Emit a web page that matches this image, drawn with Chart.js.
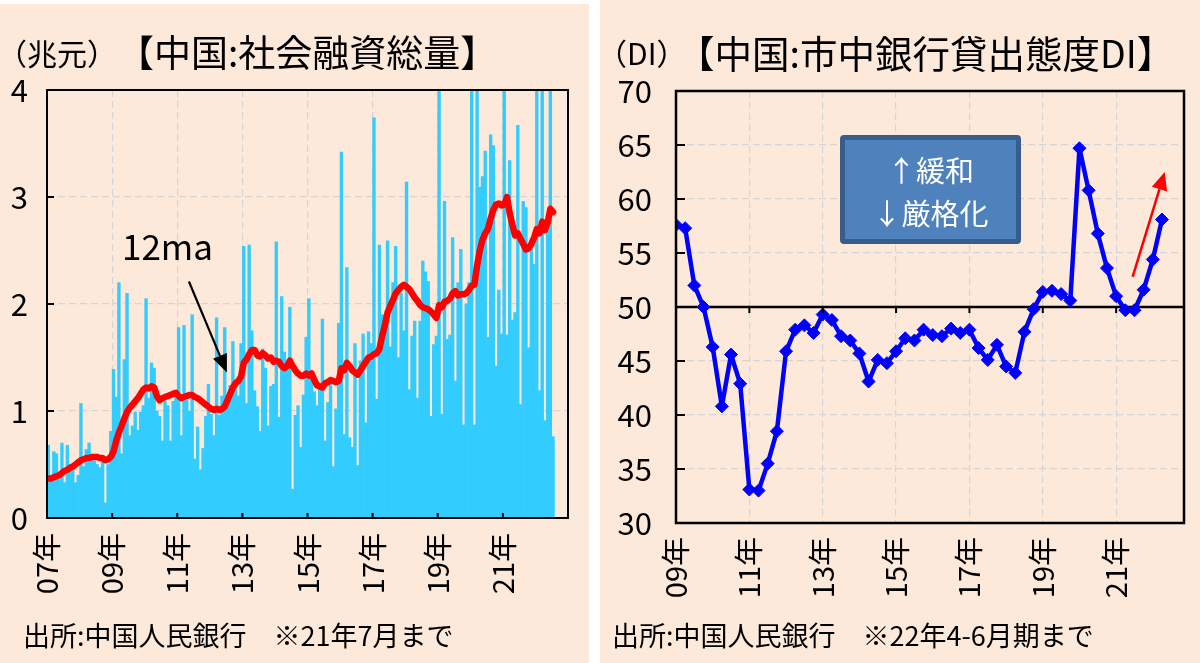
<!DOCTYPE html>
<html><head><meta charset="utf-8">
<script src="https://cdn.jsdelivr.net/npm/chart.js@4.4.1/dist/chart.umd.min.js"></script>
<style>
body{margin:0;background:#fff;}
#wrap{position:relative;width:1200px;height:663px;background:#fff;overflow:hidden;font-family:"Noto Sans CJK JP","Noto Sans",sans-serif;color:#000;}
.panel{position:absolute;background:#FCE9DA;}
canvas{position:absolute;top:0;}
.t{position:absolute;white-space:pre;line-height:1;}
#box{position:absolute;left:840px;top:135px;width:181px;height:109px;box-sizing:border-box;background:#4F81BD;border:5px solid #385D8A;border-radius:4px;}
#boxtxt{position:absolute;left:840px;top:148px;width:181px;text-align:center;color:#fff;font-size:29px;line-height:43px;white-space:pre;}
</style></head><body>
<div id="wrap">
<div class="panel" style="left:0;top:4px;width:589px;height:659px"></div>
<div class="panel" style="left:600px;top:0;width:600px;height:663px"></div>
<canvas id="c1" width="600" height="663" style="left:0"></canvas>
<canvas id="c2" width="600" height="663" style="left:600px"></canvas>
<div class="t" style="left:-3px;top:37px;font-size:30px">（兆元）</div>
<div class="t" style="left:117px;top:33px;font-size:37px">【中国:社会融資総量】</div>
<div class="t" style="left:597px;top:37px;font-size:30px">（DI）</div>
<div class="t" style="left:677px;top:33px;font-size:37.5px">【中国:市中銀行貸出態度DI】</div>
<div class="t" style="left:122px;top:227px;font-size:35px">12ma</div>
<div class="t" style="left:23px;top:621px;font-size:27px">出所:中国人民銀行　※21年7月まで</div>
<div class="t" style="left:612px;top:621px;font-size:27px">出所:中国人民銀行　※22年4-6月期まで</div>
<div id="box"></div>
<div id="boxtxt">↑緩和
↓厳格化</div>
</div>
<script>
// ---- Left: monthly total social financing (trillion yuan), Jan 2007 - Jul 2022
const tsfValues = [
 0.68,0.35,0.62,0.60,0.36,0.70,0.33,0.68,0.50,0.45,0.33,0.40,
 1.07,0.48,0.64,0.70,0.56,0.53,0.50,0.47,0.53,0.14,0.50,0.81,
 1.39,1.13,2.20,0.60,1.48,2.10,0.77,0.86,0.99,0.82,0.99,1.05,
 2.05,1.12,1.45,1.40,1.00,0.95,0.72,1.09,1.05,0.72,1.09,1.15,
 1.78,0.77,1.80,1.10,1.00,1.90,0.55,0.85,0.45,0.65,0.95,1.25,
 0.97,0.77,1.87,0.96,1.14,1.78,1.03,1.24,1.65,1.29,1.14,1.63,
 2.54,1.07,2.55,1.75,1.19,1.04,0.81,1.58,1.40,0.86,1.23,1.25,
 2.58,0.94,2.07,1.55,1.40,1.97,0.27,0.96,1.05,0.66,1.15,1.69,
 2.05,1.36,1.18,1.05,1.22,1.86,0.72,1.08,1.30,0.48,1.02,1.82,
 3.42,0.78,2.34,0.75,0.66,1.63,0.49,1.47,1.72,0.89,1.74,1.63,
 3.74,1.11,2.55,1.90,1.90,2.59,1.60,2.20,2.54,1.50,2.10,1.75,
 3.14,1.20,1.70,1.84,1.12,1.84,2.40,2.30,2.21,0.95,1.62,1.70,
 4.64,0.97,2.96,1.67,1.71,2.62,1.28,2.20,2.51,0.87,2.00,2.20,
 5.07,0.87,5.18,3.09,3.19,3.43,1.69,3.58,3.48,1.42,2.13,1.72,
 5.17,1.71,3.34,1.85,1.92,3.67,1.06,2.96,2.90,1.59,2.61,2.37,
 6.17,1.19,4.65,0.91,2.79,5.17,0.76
];
const tsfMA12 = [
 0.37,0.37,0.38,0.39,0.40,0.42,0.44,0.45,0.47,0.48,0.50,0.52,
 0.54,0.55,0.56,0.56,0.57,0.57,0.57,0.56,0.56,0.54,0.55,0.57,
 0.62,0.72,0.80,0.86,0.93,0.99,1.03,1.06,1.09,1.12,1.16,1.20,
 1.22,1.21,1.23,1.22,1.14,1.10,1.12,1.13,1.14,1.15,1.16,1.17,
 1.14,1.12,1.13,1.14,1.15,1.15,1.13,1.12,1.10,1.08,1.06,1.04,
 1.02,1.01,1.02,1.01,1.02,1.04,1.10,1.16,1.22,1.26,1.28,1.32,
 1.45,1.48,1.53,1.57,1.57,1.52,1.51,1.54,1.52,1.49,1.50,1.46,
 1.47,1.46,1.42,1.40,1.42,1.47,1.42,1.38,1.35,1.33,1.33,1.35,
 1.33,1.35,1.29,1.24,1.23,1.22,1.26,1.27,1.29,1.28,1.27,1.28,
 1.40,1.38,1.45,1.42,1.38,1.36,1.34,1.38,1.42,1.46,1.50,1.51,
 1.53,1.54,1.58,1.70,1.80,1.92,1.98,2.04,2.10,2.13,2.16,2.18,
 2.16,2.14,2.10,2.06,2.03,1.99,1.97,1.96,1.95,1.93,1.90,1.87,
 1.99,1.97,2.02,2.03,2.05,2.10,2.12,2.08,2.09,2.09,2.10,2.13,
 2.17,2.18,2.36,2.50,2.60,2.66,2.70,2.80,2.88,2.93,2.94,2.92,
 2.93,3.00,2.85,2.74,2.64,2.66,2.61,2.56,2.51,2.52,2.56,2.62,
 2.70,2.66,2.77,2.69,2.76,2.89,2.86
];
const tsfTickLabels = ['07年','09年','11年','13年','15年','17年','19年','21年'];

// ---- Right: PBoC bank lending attitude DI, quarterly 2009Q1 - 2022Q2
const diValues = [
 57.6,57.3,52.0,50.0,46.3,40.8,45.6,42.9,33.1,33.0,
 35.5,38.5,45.9,47.9,48.3,47.6,49.3,48.8,47.3,46.9,
 45.7,43.1,45.1,44.8,45.9,47.1,46.9,47.9,47.4,47.3,
 48.0,47.6,47.9,46.2,45.1,46.5,44.5,43.9,47.7,49.8,
 51.4,51.5,51.2,50.6,64.7,60.8,56.8,53.6,51.0,49.7,
 49.7,51.6,54.4,58.1
];
const diTickLabels = ['09年','11年','13年','15年','17年','19年','21年'];

// annotation arrows in data units [x, y]
const maArrow = {from:[52.3,2.21], to:[66.3,1.36]};
const diArrow = {from:[49.8,52.8], to:[53.3,62.5]};

const FONT = '"Noto Sans CJK JP","Noto Sans",sans-serif';
Chart.defaults.font.family = FONT;
Chart.defaults.color = '#000';

function drawArrow(ctx, x1, y1, x2, y2, color, w, hl, hw) {
  const ang = Math.atan2(y2 - y1, x2 - x1);
  const bx = x2 - hl * Math.cos(ang), by = y2 - hl * Math.sin(ang);
  ctx.strokeStyle = color; ctx.fillStyle = color; ctx.lineWidth = w;
  ctx.beginPath(); ctx.moveTo(x1, y1); ctx.lineTo(bx, by); ctx.stroke();
  ctx.beginPath(); ctx.moveTo(x2, y2);
  ctx.lineTo(bx + hw * Math.sin(ang), by - hw * Math.cos(ang));
  ctx.lineTo(bx - hw * Math.sin(ang), by + hw * Math.cos(ang));
  ctx.closePath(); ctx.fill();
}

const decor = {
  id: 'decor',
  beforeDatasetsDraw(chart, args, o) {
    if (o.refLine == null) return;
    const {ctx, chartArea: a, scales: {y}} = chart;
    const py = y.getPixelForValue(o.refLine);
    ctx.save(); ctx.strokeStyle = '#000'; ctx.lineWidth = o.refWidth;
    ctx.beginPath(); ctx.moveTo(a.left, py); ctx.lineTo(a.right, py); ctx.stroke();
    ctx.restore();
  },
  afterDatasetsDraw(chart, args, o) {
    const {ctx, chartArea: a, scales: {x, y}} = chart;
    ctx.save();
    ctx.strokeStyle = '#000'; ctx.lineWidth = o.tickWidth;
    y.ticks.forEach(t => {
      if (t.value <= y.min || t.value >= y.max) return;
      const py = y.getPixelForValue(t.value);
      ctx.beginPath(); ctx.moveTo(a.left, py); ctx.lineTo(a.left + o.yTickLen, py); ctx.stroke();
    });
    const base = o.xTickBase == null ? a.bottom : y.getPixelForValue(o.xTickBase);
    x.ticks.forEach(t => {
      if (t.value <= x.min || t.value >= x.max - 0.01) return;
      const px = x.getPixelForValue(t.value);
      ctx.beginPath(); ctx.moveTo(px, base); ctx.lineTo(px, base + o.xTickLen); ctx.stroke();
    });
    ctx.lineWidth = o.frameWidth; ctx.strokeStyle = '#000';
    ctx.strokeRect(a.left, a.top, a.right - a.left, a.bottom - a.top);
    if (o.arrow) {
      const ar = o.arrow;
      drawArrow(ctx, x.getPixelForValue(ar.from[0]), y.getPixelForValue(ar.from[1]),
        x.getPixelForValue(ar.to[0]), y.getPixelForValue(ar.to[1]), o.arrowColor, o.arrowWidth, o.headLen, o.headHalf);
    }
    ctx.restore();
  }
};

const gridColor = '#D5D5D5';
const fitX = h => s => { s.height = h; s.paddingLeft = 0; s.paddingRight = 0; };
const fitY = w => s => { s.width = w; s.paddingTop = 0; s.paddingBottom = 0; };

new Chart(document.getElementById('c1'), {
  type: 'bar',
  data: {
    datasets: [
      { type: 'line', data: tsfMA12.map((v, i) => ({x: i + 0.5, y: v})), borderColor: '#FF0000',
        borderWidth: 6.5, pointRadius: 0, tension: 0, borderJoinStyle: 'round', borderCapStyle: 'round', order: 0 },
      { type: 'bar', data: tsfValues.map((v, i) => ({x: i + 0.5, y: v})), backgroundColor: '#33CCFF',
        borderWidth: 0, barPercentage: 1, categoryPercentage: 1, order: 1 }
    ]
  },
  options: {
    responsive: false, animation: false, devicePixelRatio: 1,
    layout: {padding: {left: 0, top: 90, right: 32, bottom: 0}},
    plugins: {legend: {display: false}, tooltip: {enabled: false},
      decor: {tickWidth: 2, yTickLen: 7, xTickLen: -5, frameWidth: 2, arrow: maArrow,
        arrowColor: '#000', arrowWidth: 2.2, headLen: 18, headHalf: 7.5}},
    scales: {
      x: {type: 'linear', min: 0, max: 192, offset: false,
        grid: {offset: false, color: gridColor, lineWidth: 1.2, drawTicks: false},
        border: {display: false, dash: [7, 4]},
        ticks: {stepSize: 24, autoSkip: false, minRotation: 90, maxRotation: 90, padding: 15,
          font: {size: 29}, color: '#000',
          callback: v => (v % 24 === 0 && v / 24 < tsfTickLabels.length) ? tsfTickLabels[v / 24] : ''},
        afterFit: fitX(145)},
      y: {min: 0, max: 4,
        grid: {color: gridColor, lineWidth: 1.2, drawTicks: false},
        border: {display: false, dash: [7, 4]},
        ticks: {stepSize: 1, padding: 19, font: {size: 31}, color: '#000'},
        afterFit: fitY(47)}
    }
  },
  plugins: [decor]
});

new Chart(document.getElementById('c2'), {
  type: 'line',
  data: {
    datasets: [
      { data: diValues.map((v, i) => ({x: i, y: v})), borderColor: '#0000FF', backgroundColor: '#0000FF',
        borderWidth: 4.5, tension: 0, pointStyle: 'rectRot', pointRadius: 6.5, pointBorderWidth: 1,
        pointBackgroundColor: '#0000FF', pointBorderColor: '#0000FF', borderJoinStyle: 'round' }
    ]
  },
  options: {
    responsive: false, animation: false, devicePixelRatio: 1,
    layout: {padding: {left: 0, top: 91, right: 16, bottom: 0}},
    plugins: {legend: {display: false}, tooltip: {enabled: false},
      decor: {tickWidth: 2, yTickLen: 9, xTickLen: 6, xTickBase: 50, frameWidth: 2.5, refLine: 50, refWidth: 2.5,
        arrow: diArrow, arrowColor: '#FF0000', arrowWidth: 2.5, headLen: 18, headHalf: 8}},
    scales: {
      x: {type: 'linear', min: 0, max: 55.4, offset: false,
        grid: {offset: false, color: gridColor, lineWidth: 1.2, drawTicks: false},
        border: {display: false, dash: [7, 4]},
        ticks: {stepSize: 8, autoSkip: false, minRotation: 90, maxRotation: 90, padding: 14,
          font: {size: 29}, color: '#000',
          callback: v => (v % 8 === 0 && v / 8 < diTickLabels.length) ? diTickLabels[v / 8] : ''},
        afterFit: fitX(140)},
      y: {min: 30, max: 70,
        grid: {color: gridColor, lineWidth: 1.2, drawTicks: false},
        border: {display: false, dash: [7, 4]},
        ticks: {stepSize: 5, padding: 24, font: {size: 31}, color: '#000'},
        afterFit: fitY(76)}
    }
  },
  plugins: [decor]
});
</script>
</body></html>
